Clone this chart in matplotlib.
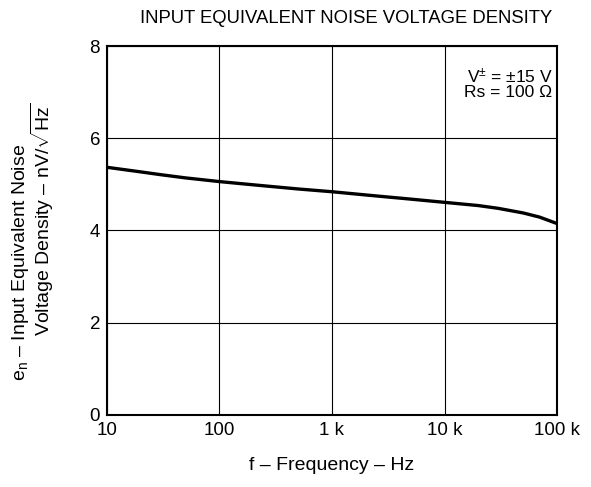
import numpy as np
import matplotlib
matplotlib.use("Agg")
import matplotlib.pyplot as plt

plt.rcParams['font.family'] = ['Liberation Sans', 'DejaVu Sans']
plt.rcParams['mathtext.fontset'] = 'custom'
plt.rcParams['mathtext.rm'] = 'Liberation Sans'
plt.rcParams['mathtext.it'] = 'Liberation Sans'

# curve
freq = [10, 20, 30, 50, 100, 200, 300, 500, 1000, 2000, 3000, 5000,
        10000, 20000, 30000, 50000, 70000, 100000]
noise = [5.37, 5.27, 5.21, 5.14, 5.06, 4.99, 4.95, 4.90, 4.84, 4.77, 4.73, 4.68,
         4.61, 4.54, 4.48, 4.38, 4.29, 4.15]

xticks = [10, 100, 1000, 10000, 100000]
xlabels = ['10', '100', '1 k', '10 k', '100 k']
yticks = [0, 2, 4, 6, 8]

fig = plt.figure(figsize=(5.91, 4.87), dpi=100)
ax = fig.add_axes([0.181, 0.148, 0.7615, 0.7575])

ax.plot(freq, noise, color='black', lw=2.4, solid_capstyle='butt')

ax.set_xscale('log')
ax.set_xlim(10, 100000)
ax.set_ylim(0, 8)
ax.set_xticks(xticks)
ax.set_xticklabels(xlabels)
ax.set_yticks(yticks)
ax.minorticks_off()
ax.tick_params(length=0, labelsize=13.5, pad=5)
ax.grid(True, color='black', lw=0.8)
for s in ax.spines.values():
    s.set_linewidth(1.5)

ax.text(0.99, 0.945, 'V$^{\\pm}$ = ±15 V\nRs = 100 Ω', transform=ax.transAxes,
        ha='right', va='top', fontsize=12.5, linespacing=0.95,
        bbox=dict(facecolor='white', edgecolor='none', pad=1))

fig.text(0.585, 0.963, 'INPUT EQUIVALENT NOISE VOLTAGE DENSITY', ha='center', va='center', fontsize=13.3)
ax.set_xlabel('f – Frequency – Hz', fontsize=14, labelpad=13)
fig.text(0.034, 0.462, 'e$_\\mathrm{n}$ – Input Equivalent Noise', rotation=90,
         ha='center', va='center', fontsize=14)
fig.text(0.072, 0.55, 'Voltage Density – nV/$\\sqrt{\\mathrm{Hz}}$', rotation=90,
         ha='center', va='center', fontsize=14)

fig.savefig('out.png', dpi=100)
